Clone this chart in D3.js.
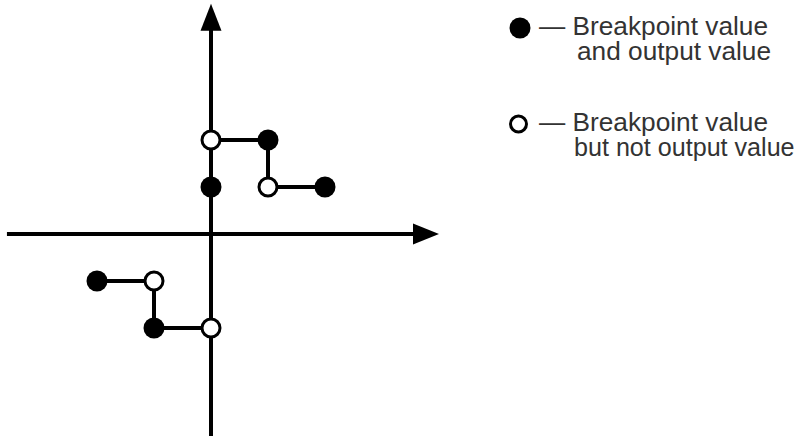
<!DOCTYPE html>
<html><head><meta charset="utf-8">
<script src="https://cdn.jsdelivr.net/npm/d3@7"></script>
<style>html,body{margin:0;padding:0;background:#fff;} svg{display:block}</style>
</head><body><svg id="c" width="800" height="440"></svg>
<script>
// ---- data ----
const stepLowerX = [-2, -1, -1, 0];
const stepLowerY = [-1, -1, -2, -2];
const stepUpperX = [0, 1, 1, 2];
const stepUpperY = [2, 2, 1, 1];
const filledX = [-2, -1, 0, 1, 2];
const filledY = [-1, -2, 1, 2, 1];
const openX = [-1, 0, 0, 1];
const openY = [-1, -2, 2, 1];
const xAxisExtent = [-3.58, 4];
const yAxisExtent = [-4.3, 4.9];
const legendFilled = [true, false];
const legendLine1 = ["\u2014 Breakpoint value", "\u2014 Breakpoint value"];
const legendLine2 = ["and output value", "but not output value"];

// ---- drawing ----
const svg = d3.select("#c");
const x = d3.scaleLinear().domain([-2, 2]).range([97, 325]);
const y = d3.scaleLinear().domain([-2, 2]).range([328, 140]);
const g = svg.append("g");

const lineGen = d3.line().x(d => x(d[0])).y(d => y(d[1]));
const lower = stepLowerX.map((v, i) => [v, stepLowerY[i]]);
const upper = stepUpperX.map((v, i) => [v, stepUpperY[i]]);

// horizontal axis
const arrowLen = 26, arrowHalf = 10.5;
const hx0 = x(xAxisExtent[0]), hx1 = x(xAxisExtent[1]), hy = y(0);
g.append("line").attr("x1", hx0).attr("x2", hx1 - arrowLen + 2).attr("y1", hy).attr("y2", hy)
  .attr("stroke", "#000").attr("stroke-width", 4);
g.append("path").attr("d", `M${hx1},${hy} L${hx1 - arrowLen},${hy - arrowHalf} L${hx1 - arrowLen},${hy + arrowHalf} Z`)
  .attr("fill", "#000");

// step lines
[lower, upper].forEach(pts => {
  g.append("path").attr("d", lineGen(pts)).attr("fill", "none")
    .attr("stroke", "#000").attr("stroke-width", 4).attr("stroke-linejoin", "miter");
});

// vertical axis
const vx = x(0), vy0 = y(yAxisExtent[0]), vy1 = y(yAxisExtent[1]);
g.append("line").attr("x1", vx).attr("x2", vx).attr("y1", vy0).attr("y2", vy1 + arrowLen - 2)
  .attr("stroke", "#000").attr("stroke-width", 4);
g.append("path").attr("d", `M${vx},${vy1} L${vx - arrowHalf},${vy1 + arrowLen + 1} L${vx + arrowHalf},${vy1 + arrowLen + 1} Z`)
  .attr("fill", "#000");

// points
g.selectAll("circle.filled").data(filledX.map((v, i) => [v, filledY[i]])).join("circle")
  .attr("class", "filled").attr("cx", d => x(d[0])).attr("cy", d => y(d[1])).attr("r", 10.5)
  .attr("fill", "#000");
g.selectAll("circle.open").data(openX.map((v, i) => [v, openY[i]])).join("circle")
  .attr("class", "open").attr("cx", d => x(d[0])).attr("cy", d => y(d[1])).attr("r", 9)
  .attr("fill", "#fff").attr("stroke", "#000").attr("stroke-width", 3);

// legend
const legY = [28, 124];
const lg = svg.append("g").attr("font-family", "'Liberation Sans', Arial, Helvetica, sans-serif")
  .attr("font-size", 25).attr("fill", "#333");
legendFilled.forEach((f, i) => {
  const cy = legY[i];
  if (f) lg.append("circle").attr("cx", 520).attr("cy", cy).attr("r", 10.5).attr("fill", "#000");
  else lg.append("circle").attr("cx", 518.5).attr("cy", cy).attr("r", 8).attr("fill", "#fff")
    .attr("stroke", "#000").attr("stroke-width", 3);
  lg.append("text").attr("transform", `translate(539,${cy + 7}) scale(1.05,1)`).text(legendLine1[i]);
  lg.append("text").attr("transform", i === 0 ? `translate(577,${cy + 32}) scale(1.05,1)` : `translate(574,${cy + 32}) scale(1.005,1)`)
    .text(legendLine2[i]);
});
</script></body></html>
